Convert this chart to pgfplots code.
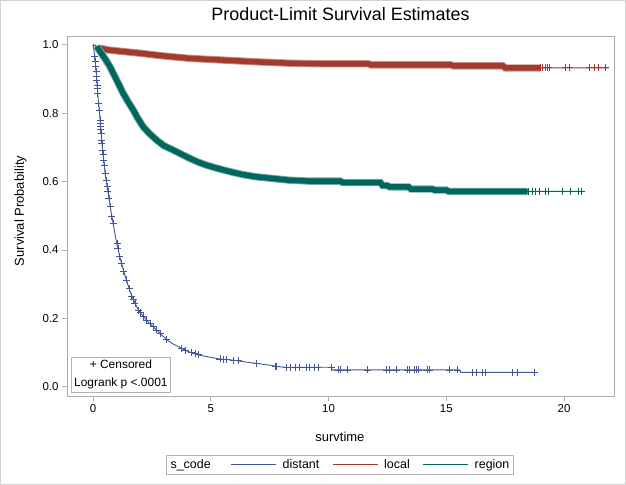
\documentclass[border=0pt]{standalone}
\usepackage{fontspec}
\setmainfont{Liberation Sans}
\usepackage{pgfplots}
\usepackage{pgfplotstable}
\pgfplotsset{compat=1.18}
\definecolor{cdist}{HTML}{445694}
\definecolor{cloc}{HTML}{A23A2E}
\definecolor{creg}{HTML}{01665E}

\pgfplotstableread{
t S
0 1.0
0.04 0.985
0.08 0.965
0.12 0.93
0.16 0.9
0.2 0.86
0.25 0.82
0.3 0.78
0.37 0.72
0.45 0.665
0.52 0.62
0.6 0.585
0.68 0.55
0.76 0.515
0.86 0.475
0.95 0.44
1.04 0.41
1.14 0.38
1.25 0.35
1.36 0.325
1.45 0.305
1.57 0.28
1.7 0.257
1.85 0.235
2.0 0.217
2.14 0.205
2.28 0.194
2.42 0.184
2.56 0.175
2.7 0.166
2.85 0.156
3.0 0.146
3.13 0.137
3.4 0.125
3.77 0.112
4.0 0.104
4.19 0.099
4.47 0.093
4.9 0.087
5.39 0.081
5.9 0.078
6.1 0.076
6.5 0.072
6.95 0.068
7.5 0.063
7.73 0.060
8.1 0.057
10.13 0.057
10.15 0.049
15.55 0.049
15.6 0.042
18.73 0.042
}\distant

\pgfplotstableread{
t S
0 1.0
0.1 0.996
0.3 0.99
0.6 0.985
1.28 0.98
2 0.975
3 0.967
4.1 0.96
5.5 0.955
6.9 0.95
8.3 0.946
9.76 0.944
11.7 0.944
11.8 0.941
15.2 0.941
15.3 0.938
17.4 0.938
17.5 0.932
19.0 0.932
21.9 0.932
}\local

\pgfplotstableread{
t S
0 1.0
0.16 0.995
0.3 0.98
0.5 0.96
0.72 0.936
1.0 0.897
1.28 0.858
1.5 0.832
1.71 0.809
1.9 0.785
2.13 0.760
2.4 0.74
2.7 0.721
3.0 0.705
3.4 0.692
3.75 0.68
4.1 0.668
4.45 0.657
4.8 0.648
5.3 0.638
5.8 0.629
6.3 0.621
6.9 0.614
7.6 0.609
8.3 0.604
9.2 0.601
10.5 0.601
10.6 0.597
12.2 0.597
12.3 0.588
12.5 0.588
12.6 0.584
13.4 0.584
13.5 0.578
14.4 0.578
14.5 0.575
15.0 0.575
15.1 0.571
18.45 0.571
20.85 0.571
}\region

\pgfplotstableread{
t S
0.08 0.965
0.097 0.95
0.113 0.936
0.132 0.921
0.152 0.906
0.163 0.897
0.178 0.882
0.188 0.872
0.202 0.858
0.239 0.829
0.264 0.809
0.30 0.78
0.312 0.77
0.32 0.76
0.334 0.751
0.346 0.741
0.369 0.721
0.38 0.712
0.41 0.692
0.43 0.678
0.453 0.663
0.475 0.648
0.513 0.624
0.56 0.604
0.60 0.585
0.634 0.57
0.678 0.551
0.735 0.526
0.80 0.497
0.85 0.478
1.02 0.419
1.06 0.405
1.14 0.38
1.21 0.361
1.31 0.336
1.42 0.312
1.53 0.288
1.64 0.263
1.71 0.254
1.78 0.244
1.94 0.224
2.0 0.217
2.14 0.205
2.28 0.194
2.42 0.184
2.56 0.175
2.7 0.166
2.85 0.156
3.13 0.137
3.77 0.112
3.91 0.107
4.19 0.099
4.33 0.096
4.47 0.093
5.39 0.081
5.53 0.080
5.68 0.080
5.96 0.078
6.17 0.076
6.95 0.068
7.73 0.060
7.8 0.060
8.22 0.057
8.36 0.057
8.58 0.057
8.77 0.057
9.05 0.057
9.2 0.057
9.41 0.057
9.55 0.057
10.11 0.057
10.4 0.049
10.5 0.049
10.82 0.049
11.67 0.049
12.44 0.049
12.58 0.049
12.87 0.049
13.36 0.049
13.43 0.049
13.64 0.049
13.74 0.049
13.83 0.049
14.18 0.049
14.28 0.049
15.13 0.049
15.48 0.049
16.11 0.042
16.26 0.042
16.54 0.042
16.65 0.042
17.81 0.042
18.02 0.042
18.73 0.042
}\distcens

\pgfplotstableread{
t S
19.0 0.932
19.1 0.932
19.2 0.932
19.3 0.932
19.36 0.932
20.04 0.932
20.24 0.932
21.09 0.932
21.27 0.932
21.45 0.932
21.77 0.932
}\loccens

\pgfplotstableread{
t S
18.5 0.571
18.66 0.571
18.8 0.571
18.94 0.571
19.22 0.571
19.33 0.571
19.92 0.571
20.28 0.571
20.6 0.571
20.73 0.571
}\regcens

\begin{document}
\begin{tikzpicture}
\useasboundingbox (0,0) rectangle (626bp,485bp);
\begin{axis}[
  at={(67bp,89bp)}, anchor=south west,
  scale only axis, width=547bp, height=360bp,
  xmin=-1.104, xmax=22.12, ymin=-0.0272, ymax=1.0254,
  xtick={0,5,10,15,20}, ytick={0,0.2,0.4,0.6,0.8,1.0},
  /pgf/number format/assume math mode=true,
  yticklabel style={/pgf/number format/fixed, /pgf/number format/fixed zerofill, /pgf/number format/precision=1},
  axis line style={draw=gray!65},
  tick style={draw=gray!65, line width=0.6bp},
  tick align=outside, tick pos=left, major tick length=5bp,
  tick label style={font=\fontsize{11.5}{13}\selectfont},
  xlabel={survtime}, ylabel={Survival Probability},
  label style={font=\fontsize{13}{15}\selectfont},
  xlabel style={at={(axis description cs:0.499,-0.114)}, anchor=center},
  ylabel style={at={(axis description cs:-0.085,0.514)}, anchor=center},
  title={Product-Limit Survival Estimates},
  title style={at={(axis description cs:0.5,1.044)}, anchor=center, font=\fontsize{18}{20}\selectfont},
  legend columns=4,
  legend cell align=left,
  legend style={at={(axis description cs:0.499,-0.164)}, anchor=north, draw=gray!60,
    font=\fontsize{12.5}{14}\selectfont, inner sep=2bp,
    /tikz/every even column/.append style={column sep=8bp}},
  legend image code/.code={\draw[#1] (0bp,0bp) -- (45bp,0bp);},
]
\addlegendimage{empty legend}
\addlegendentry{s\_code\hspace*{10bp}\mbox{}}
\addlegendimage{cdist, line width=0.9bp}
\addlegendentry{\mbox{}\hspace*{4bp}distant\hspace*{3bp}\mbox{}}
\addlegendimage{cloc, line width=0.9bp}
\addlegendentry{\mbox{}\hspace*{4bp}local\hspace*{3bp}\mbox{}}
\addlegendimage{creg, line width=0.9bp}
\addlegendentry{\mbox{}\hspace*{4bp}region\mbox{}}

% local
\addplot[cloc!55, line width=7.3bp, forget plot, restrict x to domain=0.3:19.0] table[x=t,y=S] {\local};
\addplot[cloc, line width=5.5bp, forget plot, restrict x to domain=0.3:19.0] table[x=t,y=S] {\local};
\addplot[cloc, line width=0.9bp, forget plot] table[x=t,y=S] {\local};
\addplot[cloc, only marks, mark=+, mark size=3.5bp, mark options={line width=0.9bp}, forget plot] table[x=t,y=S] {\loccens};
% region
\addplot[creg!55, line width=7.3bp, forget plot, restrict x to domain=0.16:18.45] table[x=t,y=S] {\region};
\addplot[creg, line width=5.5bp, forget plot, restrict x to domain=0.16:18.45] table[x=t,y=S] {\region};
\addplot[creg, line width=0.9bp, forget plot] table[x=t,y=S] {\region};
\addplot[creg, only marks, mark=+, mark size=3.5bp, mark options={line width=0.9bp}, forget plot] table[x=t,y=S] {\regcens};
% distant
\addplot[cdist, line width=0.9bp, forget plot] table[x=t,y=S] {\distant};
\addplot[cdist, only marks, mark=+, mark size=3.5bp, mark options={line width=0.8bp}, forget plot] table[x=t,y=S] {\distcens};

\node[draw=gray!60, fill=white, anchor=south west, align=center, inner xsep=3bp, inner ysep=3bp,
  font=\fontsize{12}{18}\selectfont] at (rel axis cs:0.0073,0.011) {+ Censored\\Logrank p <.0001};
\end{axis}
\draw[gray!35, line width=1.2bp] (0.6bp,0.6bp) rectangle (625.4bp,484.4bp);
\end{tikzpicture}
\end{document}
